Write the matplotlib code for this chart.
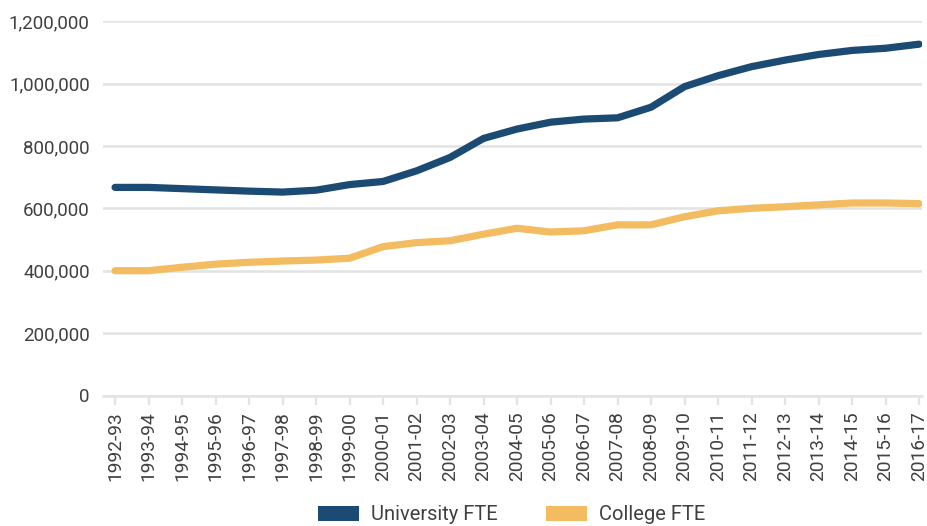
import matplotlib
matplotlib.use("Agg")
import matplotlib.pyplot as plt
from matplotlib.patches import Patch
from matplotlib.ticker import FuncFormatter

years = ["1992-93", "1993-94", "1994-95", "1995-96", "1996-97", "1997-98", "1998-99",
         "1999-00", "2000-01", "2001-02", "2002-03", "2003-04", "2004-05", "2005-06",
         "2006-07", "2007-08", "2008-09", "2009-10", "2010-11", "2011-12", "2012-13",
         "2013-14", "2014-15", "2015-16", "2016-17"]
university_fte = [667000, 667000, 663000, 659000, 655000, 652000, 658000, 676000, 686000,
                  720000, 763000, 824000, 854000, 876000, 886000, 890000, 924000, 990000,
                  1025000, 1054000, 1075000, 1093000, 1106000, 1113000, 1126000]
college_fte = [400000, 400000, 411000, 421000, 427000, 431000, 434000, 440000, 477000,
               490000, 496000, 517000, 536000, 524000, 528000, 547000, 547000, 573000,
               592000, 600000, 605000, 611000, 617000, 617000, 615000]
series_names = ["University FTE", "College FTE"]
colors = ["#1b4a73", "#f3bc61"]

plt.rcParams['font.family'] = ['Roboto', 'DejaVu Sans']

W, H = 927, 526
fig = plt.figure(figsize=(W / 100, H / 100), dpi=100)
left, right, bottom, top = 103, 921.7, 395.5, 21.1
ax = fig.add_axes([left / W, 1 - bottom / H, (right - left) / W, (bottom - top) / H])

x = list(range(len(years)))
ax.plot(x, university_fte, color=colors[0], lw=5.2, solid_capstyle='round', zorder=3)
ax.plot(x, college_fte, color=colors[1], lw=5.2, solid_capstyle='round', zorder=3)

ax.set_ylim(0, 1200000)
ax.set_xlim(-0.36, 24.08)
ax.set_yticks(range(0, 1200001, 200000))
ax.yaxis.set_major_formatter(FuncFormatter(lambda v, p: f"{int(v):,}"))
ax.set_xticks(x)
ax.set_xticklabels(years, rotation=90)

grid_c = '#e3e3e3'
ax.grid(axis='y', color=grid_c, lw=1.8, zorder=0)
ax.set_axisbelow(True)
for s in ['top', 'right', 'left']:
    ax.spines[s].set_visible(False)
ax.spines['bottom'].set_color(grid_c)
ax.spines['bottom'].set_linewidth(1.8)

ax.tick_params(axis='y', length=0, pad=9.5, labelsize=13.5, labelcolor='#404040')
ax.tick_params(axis='x', length=6.5, width=1.6, color=grid_c, pad=5,
               labelsize=13.8, labelcolor='#404040')

handles = [Patch(facecolor=c, edgecolor='none') for c in colors]
fig.legend(handles, series_names, loc='center', bbox_to_anchor=(512 / W, 1 - 515 / H),
           ncol=2, frameon=False, fontsize=14.5, handlelength=2.0, handleheight=0.72,
           handletextpad=0.63, columnspacing=2.4, labelcolor='#404040')

fig.savefig("out.png", dpi=100)
